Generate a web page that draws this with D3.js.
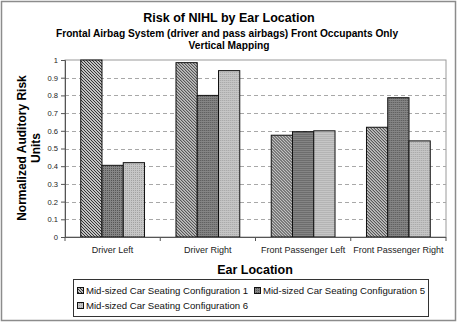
<html>
<head>
  <meta charset="utf8">
  <title>Risk of NIHL by Ear Location</title>
  <style>
  * { margin: 0; padding: 0; }
  body { background: #fff; }
  text { font-family: "Liberation Sans", Arial, sans-serif; }
  </style>
</head>
<body>
  <script src="https://cdn.jsdelivr.net/npm/d3@7"></script>
  <script>
  var w = 458;
  var h = 323;

  var categories = ["Driver Left", "Driver Right", "Front Passenger Left", "Front Passenger Right"];
  var seriesNames = ["Mid-sized Car Seating Configuration 1", "Mid-sized Car Seating Configuration 5", "Mid-sized Car Seating Configuration 6"];
  var config1 = [1.0, 0.985, 0.575, 0.62];
  var config5 = [0.405, 0.80, 0.595, 0.787];
  var config6 = [0.42, 0.94, 0.60, 0.543];
  var yTicks = [0, 0.1, 0.2, 0.3, 0.4, 0.5, 0.6, 0.7, 0.8, 0.9, 1];

  var series = [config1, config5, config6];
  var fills = ["url(#pat1)", "url(#pat2)", "url(#pat3)"];

  var plot = { left: 65, right: 446, top: 60, bottom: 237 };

  var svg = d3.select("body").append("svg")
    .attr("width", w)
    .attr("height", h);

  // patterns
  var defs = svg.append("defs");
  var p1 = defs.append("pattern").attr("id", "pat1")
    .attr("width", 3).attr("height", 3)
    .attr("patternUnits", "userSpaceOnUse");
  p1.append("rect").attr("width", 3).attr("height", 3).attr("fill", "#fff");
  p1.append("path").attr("d", "M0,0 L3,3 M-1,2 L1,4 M2,-1 L4,1")
    .attr("stroke", "#2a2a2a").attr("stroke-width", 1.1);
  var p2 = defs.append("pattern").attr("id", "pat2")
    .attr("width", 2).attr("height", 2)
    .attr("patternUnits", "userSpaceOnUse");
  p2.append("rect").attr("width", 2).attr("height", 2).attr("fill", "#858585");
  p2.append("rect").attr("width", 1).attr("height", 1).attr("fill", "#555");
  var p3 = defs.append("pattern").attr("id", "pat3")
    .attr("width", 2).attr("height", 2)
    .attr("patternUnits", "userSpaceOnUse");
  p3.append("rect").attr("width", 2).attr("height", 2).attr("fill", "#c6c6c6");
  p3.append("rect").attr("width", 1).attr("height", 1).attr("fill", "#a2a2a2");

  // outer frame
  svg.append("rect")
    .attr("x", 1.5).attr("y", 1.5)
    .attr("width", w - 4).attr("height", h - 4)
    .attr("fill", "none").attr("stroke", "#8c8c8c").attr("stroke-width", 1.5);

  var x0 = d3.scaleBand()
    .domain(categories)
    .range([plot.left, plot.right])
    .paddingInner(0)
    .paddingOuter(0);
  var x1 = d3.scaleBand()
    .domain([0, 1, 2])
    .range([0, x0.bandwidth()])
    .paddingOuter(0.74)
    .paddingInner(0);
  var y = d3.scaleLinear()
    .domain([0, 1])
    .range([plot.bottom, plot.top]);

  // plot area frame
  svg.append("rect")
    .attr("x", plot.left).attr("y", plot.top)
    .attr("width", plot.right - plot.left).attr("height", plot.bottom - plot.top)
    .attr("fill", "#fff").attr("stroke", "#9a9a9a").attr("stroke-width", 1);

  // gridlines
  svg.append("g").selectAll("line")
    .data(yTicks.filter(function(d) { return d > 0 && d < 1; }))
    .enter().append("line")
    .attr("x1", plot.left).attr("x2", plot.right)
    .attr("y1", function(d) { return Math.round(y(d)) + 0.5; })
    .attr("y2", function(d) { return Math.round(y(d)) + 0.5; })
    .attr("stroke", "#a8a8a8")
    .attr("stroke-dasharray", "4,3");

  // y axis
  var yAxis = svg.append("g")
    .attr("transform", "translate(" + plot.left + ",0)")
    .call(d3.axisLeft(y).tickValues(yTicks).tickSize(4).tickPadding(3)
      .tickFormat(function(d) { return d3.format("")(d); }));
  yAxis.select(".domain").attr("stroke", "#555");
  yAxis.selectAll(".tick line").attr("stroke", "#555");
  yAxis.selectAll("text").attr("font-size", "7.6px").attr("fill", "#222")
    .attr("font-family", "Liberation Sans, Arial, sans-serif");

  // bars
  var groups = svg.append("g").selectAll("g")
    .data(categories)
    .enter().append("g")
    .attr("transform", function(d) { return "translate(" + x0(d) + ",0)"; });
  groups.selectAll("rect")
    .data(function(d, i) { return series.map(function(s, k) { return { k: k, v: s[i] }; }); })
    .enter().append("rect")
    .attr("x", function(d) { return x1(d.k); })
    .attr("y", function(d) { return y(d.v); })
    .attr("width", x1.bandwidth())
    .attr("height", function(d) { return y(0) - y(d.v); })
    .attr("fill", function(d) { return fills[d.k]; })
    .attr("stroke", "#111")
    .attr("stroke-width", 1);

  // x axis
  var xAxis = svg.append("g")
    .attr("transform", "translate(0," + plot.bottom + ")");
  xAxis.append("line")
    .attr("x1", plot.left).attr("x2", plot.right)
    .attr("y1", 0.5).attr("y2", 0.5)
    .attr("stroke", "#555");
  xAxis.selectAll("line.tk")
    .data(d3.range(categories.length + 1))
    .enter().append("line").attr("class", "tk")
    .attr("x1", function(d) { return plot.left + d * x0.step(); })
    .attr("x2", function(d) { return plot.left + d * x0.step(); })
    .attr("y1", 0).attr("y2", 4)
    .attr("stroke", "#555");
  xAxis.selectAll("text")
    .data(categories)
    .enter().append("text")
    .attr("x", function(d) { return x0(d) + x0.bandwidth() / 2; })
    .attr("y", 15.5)
    .attr("text-anchor", "middle")
    .attr("font-size", "9px")
    .attr("fill", "#222")
    .text(function(d) { return d; });

  // titles
  svg.append("text")
    .attr("x", 229).attr("y", 22)
    .attr("text-anchor", "middle")
    .attr("font-size", "12.5px").attr("font-weight", "bold")
    .text("Risk of NIHL by Ear Location");
  svg.append("text")
    .attr("x", 227).attr("y", 37)
    .attr("text-anchor", "middle")
    .attr("font-size", "10.2px").attr("font-weight", "bold")
    .text("Frontal Airbag System (driver and pass airbags) Front Occupants Only");
  svg.append("text")
    .attr("x", 229).attr("y", 49)
    .attr("text-anchor", "middle")
    .attr("font-size", "10.2px").attr("font-weight", "bold")
    .text("Vertical Mapping");

  // y axis title
  var yt = svg.append("text")
    .attr("transform", "translate(26,148) rotate(-90)")
    .attr("text-anchor", "middle")
    .attr("font-size", "12px").attr("font-weight", "bold");
  yt.append("tspan").attr("x", 0).attr("dy", 0).text("Normalized Auditory Risk");
  yt.append("tspan").attr("x", 0).attr("dy", 14).text("Units");

  // x axis title
  svg.append("text")
    .attr("x", 255).attr("y", 274)
    .attr("text-anchor", "middle")
    .attr("font-size", "12.5px").attr("font-weight", "bold")
    .text("Ear Location");

  // legend
  var legend = svg.append("g");
  legend.append("rect")
    .attr("x", 73.5).attr("y", 279.5)
    .attr("width", 355).attr("height", 37)
    .attr("fill", "#fff").attr("stroke", "#333");
  var legPos = [[77, 294], [254, 294], [77, 309]];
  var items = legend.selectAll("g.item")
    .data(seriesNames)
    .enter().append("g").attr("class", "item")
    .attr("transform", function(d, i) { return "translate(" + legPos[i][0] + "," + legPos[i][1] + ")"; });
  items.append("rect")
    .attr("x", 0.5).attr("y", -6.5)
    .attr("width", 6).attr("height", 6)
    .attr("fill", function(d, i) { return fills[i]; })
    .attr("stroke", "#111");
  items.append("text")
    .attr("x", 9).attr("y", 0)
    .attr("font-size", "9.6px")
    .attr("fill", "#111")
    .text(function(d) { return d; });
  </script>
</body>
</html>
